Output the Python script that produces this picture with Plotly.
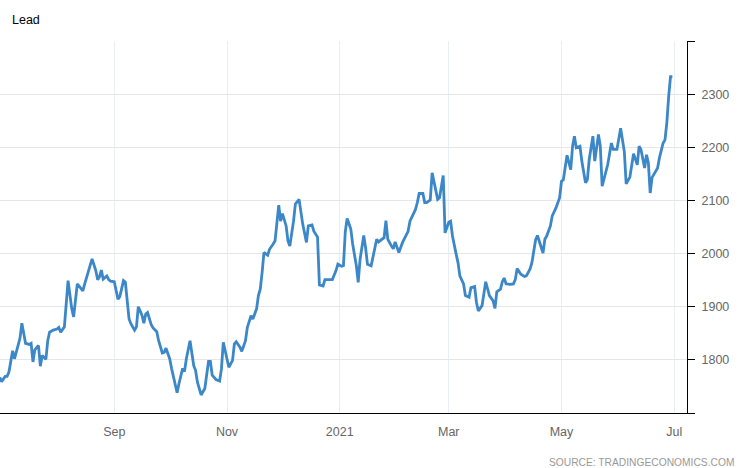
import plotly.graph_objects as go

dates = [
    "2020-07-01","2020-07-02","2020-07-04","2020-07-05","2020-07-06","2020-07-08","2020-07-09","2020-07-11",
    "2020-07-12","2020-07-13","2020-07-15","2020-07-17","2020-07-18","2020-07-19","2020-07-20","2020-07-22",
    "2020-07-23","2020-07-24","2020-07-26","2020-07-27","2020-07-28","2020-07-30",
    "2020-08-01","2020-08-02","2020-08-03","2020-08-05","2020-08-06","2020-08-07","2020-08-09","2020-08-10",
    "2020-08-12","2020-08-13","2020-08-15","2020-08-16","2020-08-18","2020-08-20","2020-08-22","2020-08-23",
    "2020-08-24","2020-08-25","2020-08-26","2020-08-28","2020-08-29","2020-08-30",
    "2020-09-01","2020-09-03","2020-09-04","2020-09-06","2020-09-07","2020-09-09","2020-09-10","2020-09-12",
    "2020-09-13","2020-09-14","2020-09-16","2020-09-17","2020-09-18","2020-09-19","2020-09-21","2020-09-22",
    "2020-09-24","2020-09-25","2020-09-27","2020-09-28","2020-09-29",
    "2020-10-01","2020-10-02","2020-10-04","2020-10-05","2020-10-06","2020-10-08","2020-10-09","2020-10-10",
    "2020-10-12","2020-10-14","2020-10-15","2020-10-16","2020-10-18","2020-10-20","2020-10-22","2020-10-23",
    "2020-10-24","2020-10-26","2020-10-28","2020-10-29","2020-10-30",
    "2020-11-01","2020-11-02","2020-11-04","2020-11-05","2020-11-06","2020-11-08","2020-11-09","2020-11-11",
    "2020-11-12","2020-11-14","2020-11-15","2020-11-17","2020-11-18","2020-11-19","2020-11-20","2020-11-21",
    "2020-11-23","2020-11-24","2020-11-26","2020-11-27","2020-11-29","2020-11-30",
    "2020-12-01","2020-12-03","2020-12-04","2020-12-05","2020-12-07","2020-12-08","2020-12-10","2020-12-11",
    "2020-12-12","2020-12-14","2020-12-15","2020-12-17","2020-12-18","2020-12-20","2020-12-21","2020-12-23",
    "2020-12-24","2020-12-26","2020-12-28","2020-12-30","2020-12-31",
    "2021-01-02","2021-01-03","2021-01-04","2021-01-05","2021-01-07","2021-01-08","2021-01-10","2021-01-11",
    "2021-01-12","2021-01-14","2021-01-15","2021-01-16","2021-01-18","2021-01-19","2021-01-21","2021-01-22",
    "2021-01-24","2021-01-25","2021-01-26","2021-01-27","2021-01-29","2021-01-30","2021-01-31",
    "2021-02-01","2021-02-02","2021-02-04","2021-02-05","2021-02-07","2021-02-08","2021-02-09","2021-02-11",
    "2021-02-12","2021-02-13","2021-02-15","2021-02-16","2021-02-17","2021-02-19","2021-02-20","2021-02-21",
    "2021-02-23","2021-02-24","2021-02-25","2021-02-26","2021-02-27",
    "2021-03-01","2021-03-02","2021-03-03","2021-03-05","2021-03-06","2021-03-07","2021-03-09","2021-03-10",
    "2021-03-12","2021-03-13","2021-03-15","2021-03-16","2021-03-17","2021-03-19","2021-03-20","2021-03-21",
    "2021-03-23","2021-03-25","2021-03-26","2021-03-27","2021-03-29","2021-03-30","2021-03-31",
    "2021-04-01","2021-04-03","2021-04-05","2021-04-06","2021-04-07","2021-04-09","2021-04-11","2021-04-12",
    "2021-04-14","2021-04-15","2021-04-17","2021-04-18","2021-04-20","2021-04-21","2021-04-22","2021-04-23",
    "2021-04-25","2021-04-26","2021-04-28","2021-04-30",
    "2021-05-01","2021-05-02","2021-05-04","2021-05-05","2021-05-06","2021-05-07","2021-05-08","2021-05-09",
    "2021-05-11","2021-05-12","2021-05-14","2021-05-15","2021-05-16","2021-05-18","2021-05-19","2021-05-21",
    "2021-05-22","2021-05-23","2021-05-25","2021-05-26","2021-05-28","2021-05-29","2021-05-31",
    "2021-06-01","2021-06-02","2021-06-04","2021-06-05","2021-06-07","2021-06-08","2021-06-09","2021-06-11",
    "2021-06-12","2021-06-13","2021-06-15","2021-06-16","2021-06-17","2021-06-18","2021-06-19","2021-06-20",
    "2021-06-22","2021-06-23","2021-06-25","2021-06-26","2021-06-27","2021-06-28","2021-06-29","2021-06-30",
]

prices = [
    1767,1759,1769,1769,1777,1817,1802,1830,1841,1869,1831,1829,1831,1796,1819,1827,1788,1808,1801,1836,1852,1856,
    1858,1861,1852,1862,1911,1949,1896,1881,1943,1939,1930,1943,1965,1990,1968,1951,1956,1969,1952,1958,1951,1948,
    1947,1914,1919,1949,1946,1877,1868,1856,1862,1900,1884,1869,1886,1889,1866,1860,1853,1836,1813,1814,1822,
    1802,1784,1755,1738,1755,1784,1778,1802,1836,1789,1780,1758,1734,1746,1797,1797,1771,1763,1760,1783,1833,
    1805,1786,1799,1830,1834,1824,1816,1836,1861,1883,1877,1896,1921,1933,1964,2002,1997,2008,2018,2024,2091,2061,
    2075,2052,2024,2014,2061,2093,2102,2080,2055,2021,2052,2054,2042,2031,1941,1939,1951,1951,1951,1968,1980,
    1976,1977,2041,2066,2046,2018,1977,1946,1989,2034,2011,1980,1977,1996,2027,2022,2028,2030,2062,2027,2014,2009,2022,
    2011,2002,2021,2029,2042,2061,2068,2083,2096,2113,2113,2096,2096,2101,2152,2136,2102,2105,2124,2147,2039,
    2059,2061,2033,1999,1983,1958,1943,1921,1918,1936,1938,1908,1892,1902,1927,1947,1921,1911,1897,1928,1933,1947,1954,
    1943,1942,1943,1951,1972,1961,1957,1958,1971,1983,2026,2034,2011,2001,2027,2033,2052,2071,2086,2105,
    2136,2139,2185,2171,2158,2202,2221,2199,2202,2174,2133,2139,2177,2221,2174,2224,2202,2127,2156,2167,2208,2196,2196,
    2218,2236,2192,2131,2144,2171,2188,2167,2202,2196,2161,2186,2171,2114,2143,2149,2161,2180,2208,2214,2246,2296,2333,2333,
]

x_tick_dates = ["2020-09-01", "2020-11-01", "2021-01-01", "2021-03-01", "2021-05-01", "2021-07-01"]
x_tick_labels = ["Sep", "Nov", "2021", "Mar", "May", "Jul"]
y_tick_values = [1700, 1800, 1900, 2000, 2100, 2200, 2300, 2400]
y_tick_labels = ["", "1800", "1900", "2000", "2100", "2200", "2300", ""]

title_text = "Lead"
source_text = "SOURCE: TRADINGECONOMICS.COM"

FONT = "Liberation Sans, Arial, sans-serif"

fig = go.Figure()
fig.add_trace(go.Scatter(
    x=dates, y=prices, mode="lines",
    line=dict(color="#3b87c8", width=2.8),
    hoverinfo="x+y", showlegend=False,
))

fig.update_layout(
    width=746, height=468,
    margin=dict(l=0, r=59, t=41, b=55),
    paper_bgcolor="white", plot_bgcolor="white",
    font=dict(family=FONT, size=12, color="#666666"),
    xaxis=dict(
        range=["2020-07-01 04:00", "2021-07-07 22:00"],
        tickvals=x_tick_dates, ticktext=x_tick_labels,
        showgrid=True, gridcolor="#e8eef5", gridwidth=1,
        showline=True, linecolor="black", linewidth=1,
        ticks="", zeroline=False, ticklabelstandoff=7,
        tickfont=dict(family=FONT, size=12.5, color="#666666"),
    ),
    yaxis=dict(
        side="right", range=[1700, 2400],
        tickvals=y_tick_values, ticktext=y_tick_labels,
        showgrid=True, gridcolor="#e6e6e6", gridwidth=1,
        showline=True, linecolor="black", linewidth=1,
        ticks="outside", ticklen=7, tickcolor="black", tickwidth=1,
        zeroline=False, ticklabelstandoff=4,
        tickfont=dict(family=FONT, size=12.5, color="#666666"),
    ),
    annotations=[
        dict(text=title_text, xref="paper", yref="paper", x=10/687, y=(413-20)/372,
             xanchor="left", yanchor="middle", showarrow=False,
             font=dict(family=FONT, size=12.5, color="#000000")),
        dict(text=source_text, xref="paper", yref="paper", x=736/687, y=(413-462)/372,
             xanchor="right", yanchor="middle", showarrow=False,
             font=dict(family=FONT, size=10.25, color="#999999")),
    ],
)

fig.write_html("out.html")
